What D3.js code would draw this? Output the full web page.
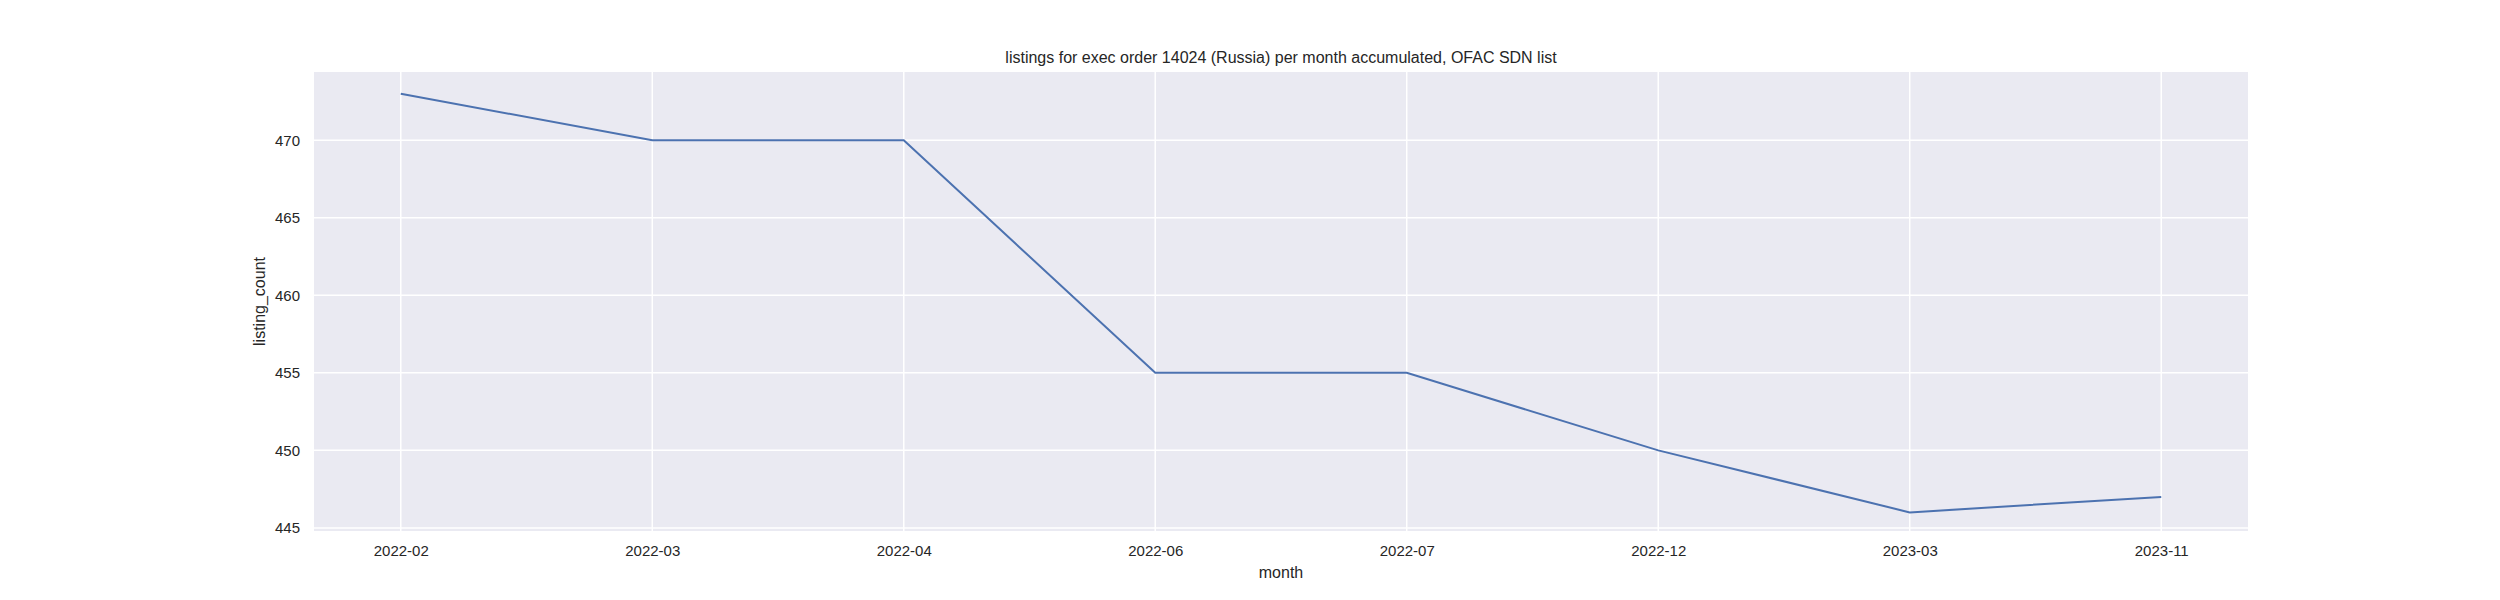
<!DOCTYPE html>
<html>
<head>
<meta charset="utf-8">
<script src="https://cdn.jsdelivr.net/npm/d3@7"></script>
<style>
  body { margin: 0; background: #fff; }
  text { font-family: "Liberation Sans", Arial, sans-serif; fill: #262626; }
</style>
</head>
<body>
<svg id="chart" width="2500" height="600"></svg>
<script>
const months = ["2022-02", "2022-03", "2022-04", "2022-06", "2022-07", "2022-12", "2023-03", "2023-11"];
const listingCounts = [473, 470, 470, 455, 455, 450, 446, 447];
const yTicks = [445, 450, 455, 460, 465, 470];

const margin = { top: 72, right: 252, bottom: 69, left: 314 };
const width = 2500, height = 600;
const svg = d3.select("#chart");

const x = d3.scalePoint().domain(months)
  .range([margin.left, width - margin.right]).padding(0.345);
const y = d3.scaleLinear().domain([444.8, 474.4])
  .range([height - margin.bottom, margin.top]);

// background
svg.append("rect")
  .attr("x", margin.left).attr("y", margin.top)
  .attr("width", width - margin.left - margin.right)
  .attr("height", height - margin.top - margin.bottom)
  .attr("fill", "#eaeaf2");

// grid
svg.append("g").selectAll("line").data(yTicks).join("line")
  .attr("x1", margin.left).attr("x2", width - margin.right)
  .attr("y1", d => y(d)).attr("y2", d => y(d))
  .attr("stroke", "#fff").attr("stroke-width", 1.5);
svg.append("g").selectAll("line").data(months).join("line")
  .attr("x1", d => x(d)).attr("x2", d => x(d))
  .attr("y1", margin.top).attr("y2", height - margin.bottom)
  .attr("stroke", "#fff").attr("stroke-width", 1.5);

// axes
const xAxis = svg.append("g")
  .attr("transform", `translate(0,${height - margin.bottom})`)
  .call(d3.axisBottom(x).tickSize(0).tickPadding(14));
const yAxis = svg.append("g")
  .attr("transform", `translate(${margin.left},0)`)
  .call(d3.axisLeft(y).tickValues(yTicks).tickSize(0).tickPadding(14));
[xAxis, yAxis].forEach(a => {
  a.select(".domain").remove();
  a.selectAll("text").attr("font-size", 15).attr("fill", "#262626")
    .attr("font-family", "Liberation Sans, Arial, sans-serif");
});

// line
const line = d3.line().x((d, i) => x(months[i])).y(d => y(d));
svg.append("path").datum(listingCounts)
  .attr("d", line).attr("fill", "none")
  .attr("stroke", "#4c72b0").attr("stroke-width", 2);

// labels
svg.append("text").attr("x", (margin.left + width - margin.right) / 2).attr("y", 63)
  .attr("text-anchor", "middle").attr("font-size", 16)
  .text("listings for exec order 14024 (Russia) per month accumulated, OFAC SDN list");
svg.append("text").attr("x", (margin.left + width - margin.right) / 2).attr("y", 578)
  .attr("text-anchor", "middle").attr("font-size", 16).text("month");
svg.append("text")
  .attr("transform", `translate(265,${(margin.top + height - margin.bottom) / 2}) rotate(-90)`)
  .attr("text-anchor", "middle").attr("font-size", 16).text("listing_count");
</script>
</body>
</html>
